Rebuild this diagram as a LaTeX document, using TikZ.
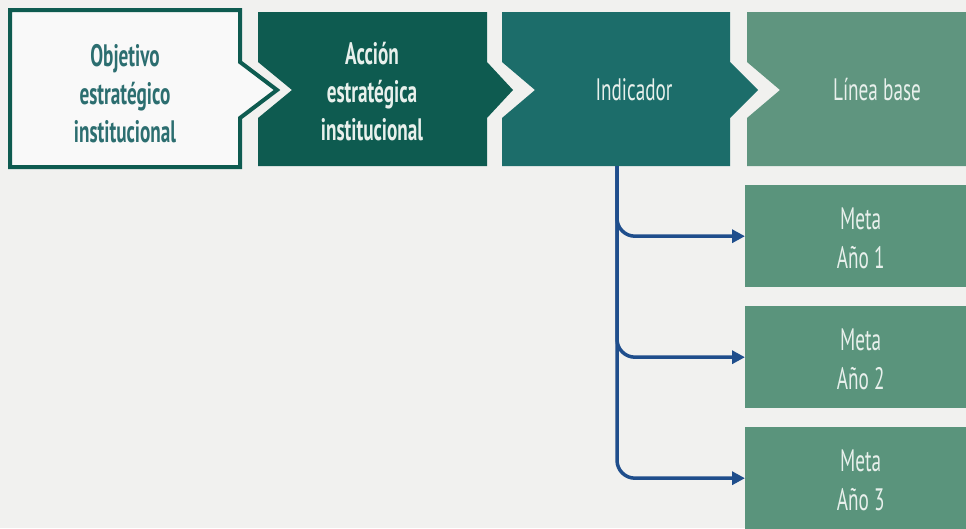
\documentclass[tikz,border=0pt]{standalone}
\usepackage{fontspec}
\setmainfont{PT Sans}[FakeStretch=0.62]
\usetikzlibrary{arrows.meta}
\definecolor{bgc}{HTML}{F1F1EF}
\definecolor{darkg}{HTML}{0E5B50}
\definecolor{tealc}{HTML}{1C6D6A}
\definecolor{lightg}{HTML}{5F957F}
\definecolor{metag}{HTML}{5A947C}
\definecolor{arrowc}{HTML}{1F4E8C}
\definecolor{txtteal}{HTML}{2C6E70}
\definecolor{txtw}{HTML}{E8F0EC}
\tikzset{
  lbl/.style={align=center, font=\fontsize{31}{39}\selectfont, text=txtw, inner sep=0pt},
  lblb/.style={lbl, font=\fontsize{31}{38}\selectfont\bfseries},
  metabox/.style={fill=metag, minimum width=221pt, minimum height=102pt, inner sep=0pt, anchor=north west},
  conn/.style={draw=arrowc, line width=3.5pt, rounded corners=18pt, -{Triangle[length=13pt,width=13pt]}}
}
\begin{document}
\begin{tikzpicture}[x=1pt,y=-1pt]
\fill[bgc] (0,0) rectangle (966,528);
\useasboundingbox (0,0) rectangle (966,528);
% box 1 (outlined)
\draw[darkg, line width=4pt, fill=white!60!bgc, line join=miter]
  (10,10) -- (240,10) -- (240,62) -- (277,90) -- (240,118) -- (240,167) -- (10,167) -- cycle;
% box 2
\fill[darkg] (258,12) -- (487,12) -- (487,62) -- (513,90) -- (487,118) -- (487,166)
  -- (258,166) -- (258,118) -- (292,90) -- (258,62) -- cycle;
% box 3
\fill[tealc] (502,12) -- (730,12) -- (730,62) -- (758,90) -- (730,118) -- (730,166)
  -- (502,166) -- (502,118) -- (535,90) -- (502,62) -- cycle;
% box 4
\fill[lightg] (747,12) -- (966,12) -- (966,166) -- (747,166) -- (747,118) -- (780,90) -- (747,62) -- cycle;
% labels
\node[lblb, text=txtteal] (obj) at (125,94) {Objetivo\\estratégico\\institucional};
\node[lblb] (acc) at (372,92) {Acción\\estratégica\\institucional};
\node[lbl] (ind) at (634,90) {Indicador};
\node[lbl] (lin) at (877,90) {Línea base};
% meta boxes
\node[metabox] (m1) at (745,185) {};
\node[metabox] (m2) at (745,306) {};
\node[metabox] (m3) at (745,427) {};
\node[lbl] (t1) at ([xshift=5pt,yshift=-2pt]m1.center) {Meta\\Año 1};
\node[lbl] (t2) at ([xshift=5pt,yshift=-2pt]m2.center) {Meta\\Año 2};
\node[lbl] (t3) at ([xshift=5pt,yshift=-2pt]m3.center) {Meta\\Año 3};
% connectors
\coordinate (b0) at (617,166);
\draw[conn] (b0) |- (m1.west);
\draw[conn] (b0) |- (m2.west);
\draw[conn] (b0) |- (m3.west);
\end{tikzpicture}
\end{document}
